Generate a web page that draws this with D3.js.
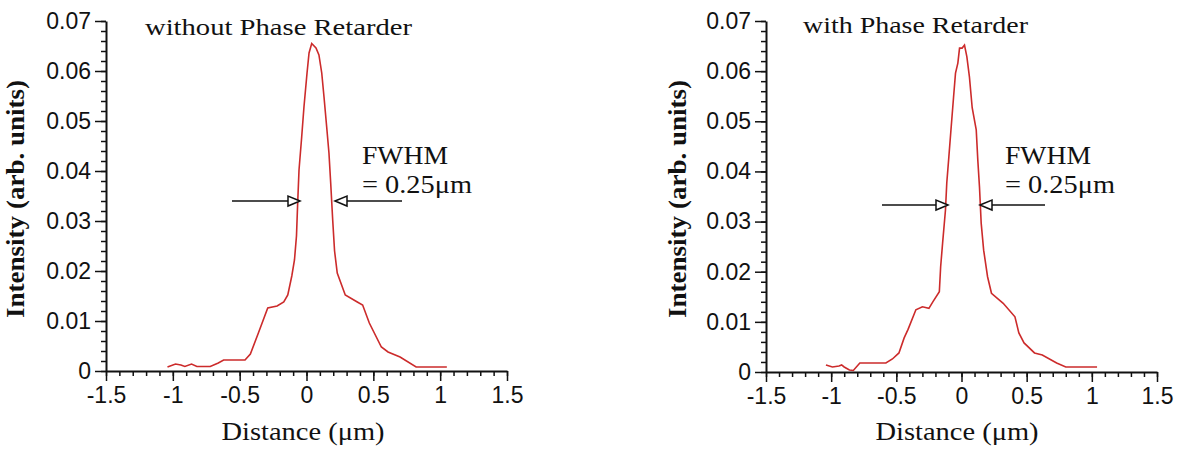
<!DOCTYPE html>
<html>
<head>
<meta charset="utf-8">
<script src="https://cdn.jsdelivr.net/npm/d3@7"></script>
<style>
  body { margin: 0; background: #fff; }
  svg { display: block; }
  .tick text { font-family: "Liberation Sans", Arial, sans-serif; font-size: 23px; fill: #111; }
  .serif { font-family: "Liberation Serif", "Times New Roman", serif; fill: #111; }
</style>
</head>
<body>
<svg id="chart" width="1182" height="450"></svg>
<script>
// profile without retarder
var distLeft = [-1.04, -0.98, -0.94, -0.91, -0.86, -0.82, -0.72, -0.66, -0.62, -0.46, -0.42, -0.36, -0.29, -0.22, -0.17, -0.14, -0.11, -0.09, -0.075, -0.066, -0.056, -0.036, -0.019, 0.004, 0.019, 0.039, 0.071, 0.093, 0.114, 0.131, 0.151, 0.168, 0.181, 0.196, 0.21, 0.23, 0.29, 0.38, 0.42, 0.47, 0.56, 0.61, 0.70, 0.82, 1.05];
var intLeft  = [0.0008, 0.0014, 0.0012, 0.0009, 0.0014, 0.0009, 0.0009, 0.0016, 0.0022, 0.0022, 0.0034, 0.0076, 0.0126, 0.0130, 0.0138, 0.0152, 0.0190, 0.0222, 0.0270, 0.0336, 0.0402, 0.0468, 0.0528, 0.0596, 0.0636, 0.0655, 0.0646, 0.0632, 0.0596, 0.0548, 0.0488, 0.0436, 0.0376, 0.0302, 0.0240, 0.0196, 0.0152, 0.0138, 0.0132, 0.0096, 0.0048, 0.0038, 0.0028, 0.0008, 0.0008];

// profile with retarder
var distRight = [-1.04, -0.99, -0.94, -0.92, -0.90, -0.86, -0.83, -0.78, -0.58, -0.53, -0.48, -0.44, -0.41, -0.35, -0.30, -0.25, -0.22, -0.17, -0.16, -0.145, -0.123, -0.113, -0.097, -0.079, -0.061, -0.046, -0.028, -0.015, 0.005, 0.023, 0.041, 0.061, 0.082, 0.113, 0.125, 0.138, 0.151, 0.17, 0.20, 0.23, 0.32, 0.41, 0.44, 0.48, 0.56, 0.62, 0.73, 0.80, 1.04];
var intRight  = [0.0014, 0.0010, 0.0012, 0.0014, 0.0010, 0.0004, 0.0003, 0.0018, 0.0018, 0.0026, 0.0038, 0.0068, 0.0085, 0.0124, 0.0130, 0.0127, 0.0140, 0.0160, 0.0210, 0.0257, 0.0323, 0.0377, 0.0429, 0.0489, 0.0548, 0.0596, 0.0616, 0.0646, 0.0646, 0.0652, 0.0629, 0.0588, 0.0527, 0.0483, 0.0423, 0.0369, 0.0297, 0.0243, 0.0190, 0.0157, 0.0137, 0.0110, 0.0078, 0.0058, 0.0038, 0.0034, 0.0018, 0.0010, 0.0010];

var xTicks = [-1.5, -1, -0.5, 0, 0.5, 1, 1.5];
var yTicks = [0, 0.01, 0.02, 0.03, 0.04, 0.05, 0.06, 0.07];
var titles = ["without Phase Retarder", "with Phase Retarder"];
var fwhmText = ["FWHM", "= 0.25\u03bcm"];

var svg = d3.select("#chart");

var panels = [
  { dist: distLeft, inten: intLeft, title: titles[0], x0: 106, x1: 507, y0: 371, y1: 21,
    titleX: 145, titleY: 35, titleW: 267, ylabX: 24, xlabX: 303, fwX: 362,
    arrL: [232, 300, 201], arrR: [402, 335, 201] },
  { dist: distRight, inten: intRight, title: titles[1], x0: 766, x1: 1157, y0: 372, y1: 21,
    titleX: 803, titleY: 33, titleW: 225, ylabX: 686, xlabX: 957, fwX: 1005,
    arrL: [882, 948, 205], arrR: [1045, 980, 205] }
];

panels.forEach(function(p) {
  var x = d3.scaleLinear().domain([-1.5, 1.5]).range([p.x0, p.x1]);
  var y = d3.scaleLinear().domain([0, 0.07]).range([p.y0, p.y1]);
  var g = svg.append("g");

  // minor ticks
  g.append("g")
    .attr("transform", "translate(0," + p.y0 + ")")
    .call(d3.axisBottom(x).tickValues(d3.range(-15, 16).map(function(d){ return d / 10; }))
      .tickSize(5).tickFormat(""))
    .call(function(a){ a.select(".domain").remove(); a.selectAll("line").attr("stroke", "#111").attr("stroke-width", 1.5); });
  g.append("g")
    .attr("transform", "translate(" + p.x0 + ",0)")
    .call(d3.axisLeft(y).tickValues(d3.range(0, 36).map(function(d){ return d * 0.002; }))
      .tickSize(5).tickFormat(""))
    .call(function(a){ a.select(".domain").remove(); a.selectAll("line").attr("stroke", "#111").attr("stroke-width", 1.5); });

  // major axes
  var xa = g.append("g")
    .attr("transform", "translate(0," + p.y0 + ")")
    .call(d3.axisBottom(x).tickValues(xTicks).tickSize(10).tickSizeOuter(0).tickPadding(6)
      .tickFormat(function(d){ return String(d); }));
  xa.select(".domain").attr("stroke", "#111").attr("stroke-width", 2);
  xa.selectAll("line").attr("stroke", "#111").attr("stroke-width", 1.5);

  var ya = g.append("g")
    .attr("transform", "translate(" + p.x0 + ",0)")
    .call(d3.axisLeft(y).tickValues(yTicks).tickSize(11).tickSizeOuter(0).tickPadding(4)
      .tickFormat(function(d){ return d === 0 ? "0" : d.toFixed(2); }));
  ya.select(".domain").attr("stroke", "#111").attr("stroke-width", 2);
  ya.selectAll("line").attr("stroke", "#111").attr("stroke-width", 1.5);

  // curve
  var pts = p.dist.map(function(d, i){ return [d, p.inten[i]]; });
  g.append("path")
    .datum(pts)
    .attr("fill", "none")
    .attr("stroke", "#cc2b2b")
    .attr("stroke-width", 1.6)
    .attr("d", d3.line().x(function(d){ return x(d[0]); }).y(function(d){ return y(d[1]); }));

  // texts
  g.append("text").attr("class", "serif")
    .attr("x", p.titleX).attr("y", p.titleY)
    .attr("textLength", p.titleW).attr("lengthAdjust", "spacingAndGlyphs")
    .style("font-size", "23px")
    .text(p.title);

  g.append("text").attr("class", "serif")
    .attr("transform", "translate(" + p.ylabX + ",199) rotate(-90)")
    .attr("text-anchor", "middle")
    .attr("textLength", 238).attr("lengthAdjust", "spacingAndGlyphs")
    .style("font-size", "25px").style("font-weight", "bold")
    .text("Intensity (arb. units)");

  g.append("text").attr("class", "serif")
    .attr("x", p.xlabX).attr("y", 440)
    .attr("text-anchor", "middle")
    .attr("textLength", 163).attr("lengthAdjust", "spacingAndGlyphs")
    .style("font-size", "25px")
    .text("Distance (\u03bcm)");

  g.append("text").attr("class", "serif")
    .attr("x", p.fwX).attr("y", 164)
    .attr("textLength", 86).attr("lengthAdjust", "spacingAndGlyphs")
    .style("font-size", "26px")
    .text(fwhmText[0]);
  g.append("text").attr("class", "serif")
    .attr("x", p.fwX).attr("y", 193)
    .attr("textLength", 110).attr("lengthAdjust", "spacingAndGlyphs")
    .style("font-size", "26px")
    .text(fwhmText[1]);

  // arrows
  [p.arrL, p.arrR].forEach(function(a) {
    var dir = a[1] > a[0] ? 1 : -1;
    var base = a[1] - dir * 12;
    g.append("line")
      .attr("x1", a[0]).attr("x2", base).attr("y1", a[2]).attr("y2", a[2])
      .attr("stroke", "#111").attr("stroke-width", 1.5);
    g.append("path")
      .attr("d", "M" + a[1] + "," + a[2] + " L" + base + "," + (a[2] - 5) + " L" + base + "," + (a[2] + 5) + " Z")
      .attr("fill", "#fff").attr("stroke", "#111").attr("stroke-width", 1.5);
  });
});
</script>
</body>
</html>
